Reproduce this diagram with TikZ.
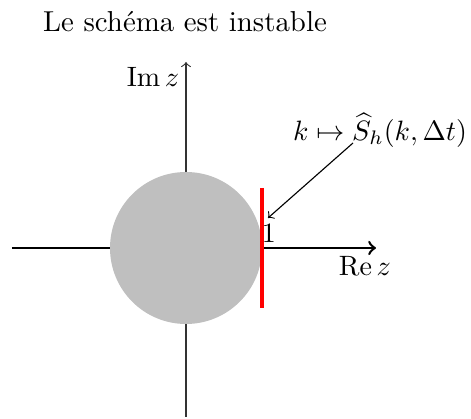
\documentclass[tikz,border=0pt]{standalone}
\usepackage{amsmath}
\begin{document}
\begin{tikzpicture}[x=0.357pt,y=-0.357pt,
  axisthin/.style={line width=0.4pt,black!80},
  axisthick/.style={line width=0.9pt,black},
  lbl/.style={inner sep=0pt,font=\fontsize{10}{12}\selectfont}]
\useasboundingbox (0,0) rectangle (471,419);
% axes
\coordinate (yb) at (186,417);
\coordinate (yt) at (186,62);
\coordinate (xl) at (12,248);
\coordinate (O) at (186,248);
\coordinate (xr) at (376,248);
\draw[axisthin,->] (yb) -- (yt);
\draw[axisthick] (xl) -- (O);
\draw[axisthick,->] (O) -- (xr);
% disc
\fill[black!25] (O) circle[radius=76];
% red segment
\coordinate (rt) at (262,188);
\coordinate (rb) at (262,308);
\draw[red,line width=1.5pt] (rt) -- (rb);
% labels
\node[lbl] (title) at (185,22) {\fontsize{10.3}{12}\selectfont Le schéma est instable};
\node[lbl] (im) at (153,77) {$\operatorname{Im} z$};
\node[lbl] (re) at (365,266) {$\operatorname{Re} z$};
\node[lbl] (one) at (269,233) {$1$};
\node[lbl] (map) at (380,130) {$k\mapsto \widehat{S}_h(k,\Delta t)$};
\coordinate (from) at (353,143);
\coordinate (tip) at (268,218);
\draw[->,line width=0.4pt] (from) -- (tip);
\end{tikzpicture}
\end{document}
